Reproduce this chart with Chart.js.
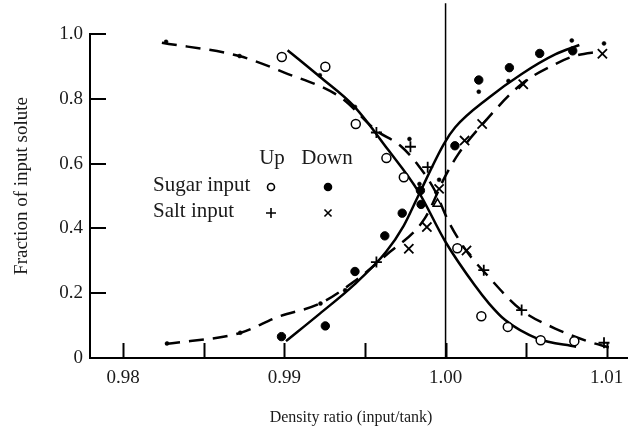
<!DOCTYPE html>
<html><head><meta charset="utf-8">
<script src="https://cdn.jsdelivr.net/npm/chart.js@4.4.0/dist/chart.umd.min.js"></script>
<style>html,body{margin:0;padding:0;background:#fff;}#wrap{width:636px;height:432px;}</style>
</head><body><div id="wrap"><canvas id="c" width="636" height="432"></canvas></div>
<script>
// ---- tick values & labels ----
const xTickValues = [0.98, 0.985, 0.99, 0.995, 1.00, 1.005, 1.01];
const xTickLabels = ['0.98', '', '0.99', '', '1.00', '', '1.01'];
const yTickValues = [0, 0.2, 0.4, 0.6, 0.8, 1.0];
const yTickLabels = ['0', '0.2', '0.4', '0.6', '0.8', '1.0'];
const xTitle = 'Density ratio (input/tank)';
const yTitle = 'Fraction of input solute';
const legendCols = ['Up', 'Down'];
const legendRows = ['Sugar input', 'Salt input'];

// ---- fitted curves ----
const sugarUpCurveX = [0.9902, 0.9922, 0.9943, 0.9964, 0.9983, 1.0000, 1.0018, 1.0027, 1.0037, 1.0057, 1.0081];
const sugarUpCurveY = [0.950, 0.868, 0.778, 0.645, 0.515, 0.358, 0.225, 0.168, 0.117, 0.060, 0.035];
const sugarDownCurveX = [0.9901, 0.9922, 0.9943, 0.9963, 0.9974, 0.9983, 0.9999, 1.0006, 1.0027, 1.0047, 1.0068, 1.0083];
const sugarDownCurveY = [0.052, 0.137, 0.225, 0.327, 0.408, 0.500, 0.661, 0.712, 0.804, 0.876, 0.937, 0.966];
const saltUpCurveX = [0.9824, 0.9872, 0.9900, 0.9935, 0.9957, 0.9972, 0.9983, 0.9993, 1.0002, 1.0013, 1.0025, 1.0047, 1.0068, 1.0088, 1.0103];
const saltUpCurveY = [0.973, 0.932, 0.881, 0.804, 0.702, 0.655, 0.595, 0.520, 0.420, 0.330, 0.260, 0.148, 0.091, 0.052, 0.030];
const saltDownCurveX = [0.9826, 0.9873, 0.9896, 0.9922, 0.9943, 0.9963, 0.9987, 1.0000, 1.0008, 1.0023, 1.0047, 1.0068, 1.0080, 1.0096];
const saltDownCurveY = [0.043, 0.078, 0.127, 0.168, 0.235, 0.317, 0.430, 0.563, 0.630, 0.722, 0.845, 0.907, 0.932, 0.946];

// ---- measured points ----
const sugarUpX = [0.98984, 0.99254, 0.99443, 0.99633, 0.99741, 1.00073, 1.00222, 1.00386, 1.00590, 1.00799];
const sugarUpY = [0.929, 0.899, 0.722, 0.617, 0.558, 0.339, 0.129, 0.096, 0.055, 0.052];
const sugarDownX = [0.98982, 0.99254, 0.99438, 0.99623, 0.99731, 0.99848, 0.99844, 1.00058, 1.00206, 1.00396, 1.00584, 1.00789];
const sugarDownY = [0.066, 0.099, 0.267, 0.377, 0.447, 0.474, 0.517, 0.655, 0.858, 0.896, 0.940, 0.948];
const saltUpX = [0.99571, 0.99782, 0.99889, 0.99571, 1.00237, 1.00472, 1.00983];
const saltUpY = [0.696, 0.652, 0.589, 0.296, 0.271, 0.148, 0.047];
const saltDownX = [0.99772, 0.99884, 0.99960, 1.00130, 1.00118, 1.00227, 1.00482, 1.00973];
const saltDownY = [0.337, 0.404, 0.522, 0.332, 0.671, 0.722, 0.845, 0.939];
const smallDotX = [0.98266, 0.98722, 0.98272, 0.98726, 0.99220, 0.99438, 0.99776, 0.99960, 0.99838, 1.00206, 1.00390, 1.00783, 1.00983, 0.99377, 0.99224];
const smallDotY = [0.976, 0.932, 0.045, 0.078, 0.873, 0.775, 0.676, 0.550, 0.537, 0.822, 0.855, 0.980, 0.971, 0.209, 0.168];
const triangleX = [0.99950];
const triangleY = [0.476];
const divideX = [1.0, 1.0];
const divideY = [0, 1.095];

const zip = (xs, ys) => xs.map((x, i) => ({x, y: ys[i]}));
const FONT = "'Liberation Serif', 'Times New Roman', serif";
const TXT = '#1a1a1a';

const curve = (xs, ys, dashed) => ({
  data: zip(xs, ys), showLine: true, borderColor: '#000', borderWidth: 2.5,
  borderDash: dashed ? [15, 9] : [], pointRadius: 0, cubicInterpolationMode: 'monotone', fill: false
});
const marks = (xs, ys, style, r, bg, bw) => ({
  data: zip(xs, ys), showLine: false, pointStyle: style, pointRadius: r,
  pointBackgroundColor: bg, pointBorderColor: '#000', pointBorderWidth: bw
});

const tickPlugin = {
  id: 'innerTicks',
  afterDraw(chart) {
    const ctx = chart.ctx, xs = chart.scales.x, ys = chart.scales.y;
    const a = chart.chartArea;
    ctx.save();
    ctx.strokeStyle = '#000'; ctx.lineWidth = 2;
    xTickValues.forEach(v => {
      const px = Math.round(xs.getPixelForValue(v)) + 0.5;
      ctx.beginPath(); ctx.moveTo(px, a.bottom); ctx.lineTo(px, a.bottom - 15); ctx.stroke();
    });
    yTickValues.forEach(v => {
      const py = Math.round(ys.getPixelForValue(v));
      ctx.beginPath(); ctx.moveTo(a.left, py); ctx.lineTo(a.left + 16, py); ctx.stroke();
    });
    ctx.restore();
  }
};

const textPlugin = {
  id: 'texts',
  afterDraw(chart) {
    const ctx = chart.ctx;
    ctx.save();
    ctx.fillStyle = TXT;
    ctx.textBaseline = 'middle';
    // axis titles
    ctx.font = '16px ' + FONT;
    ctx.textAlign = 'center';
    ctx.fillText(xTitle, 351, 418);
    ctx.save();
    ctx.translate(22, 186);
    ctx.rotate(-Math.PI / 2);
    ctx.font = '19px ' + FONT;
    ctx.fillText(yTitle, 0, 0);
    ctx.restore();
    // legend table
    ctx.font = '21px ' + FONT;
    ctx.textAlign = 'center';
    ctx.fillText(legendCols[0], 272, 158);
    ctx.fillText(legendCols[1], 327, 158);
    ctx.textAlign = 'left';
    ctx.fillText(legendRows[0], 153, 185);
    ctx.fillText(legendRows[1], 153, 211);
    const dp = Chart.helpers.drawPoint;
    ctx.strokeStyle = '#000'; ctx.fillStyle = '#fff'; ctx.lineWidth = 1.6;
    dp(ctx, {pointStyle: 'circle', radius: 3.5, borderWidth: 1.6, rotation: 0}, 271, 187);
    ctx.fillStyle = '#000';
    dp(ctx, {pointStyle: 'circle', radius: 3.5, borderWidth: 1, rotation: 0}, 328, 187);
    dp(ctx, {pointStyle: 'cross', radius: 5, borderWidth: 1.6, rotation: 0}, 271, 213);
    dp(ctx, {pointStyle: 'crossRot', radius: 5, borderWidth: 1.6, rotation: 0}, 328, 213);
    ctx.restore();
  }
};

new Chart(document.getElementById('c'), {
  type: 'scatter',
  data: {
    datasets: [
      marks(sugarUpX, sugarUpY, 'circle', 4.5, '#fff', 1.5),
      marks(sugarDownX, sugarDownY, 'circle', 4.2, '#000', 1),
      marks(saltUpX, saltUpY, 'cross', 5.5, '#000', 1.8),
      marks(saltDownX, saltDownY, 'crossRot', 6.5, '#000', 1.8),
      marks(smallDotX, smallDotY, 'circle', 2, '#000', 0.5),
      marks(triangleX, triangleY, 'triangle', 5, '#fff', 1.5),
      curve(sugarUpCurveX, sugarUpCurveY, false),
      curve(sugarDownCurveX, sugarDownCurveY, false),
      curve(saltUpCurveX, saltUpCurveY, true),
      curve(saltDownCurveX, saltDownCurveY, true),
      Object.assign(curve(divideX, divideY, false), {borderWidth: 1.5, cubicInterpolationMode: 'default', tension: 0, clip: false})
    ]
  },
  options: {
    responsive: false, animation: false, devicePixelRatio: 1,
    layout: {padding: {top: 34, right: 2, left: 0, bottom: 0}},
    plugins: {legend: {display: false}, tooltip: {enabled: false}},
    scales: {
      x: {
        type: 'linear', min: 0.97794, max: 1.0113,
        afterBuildTicks(s) { s.ticks = xTickValues.map(v => ({value: v})); },
        afterFit(s) { s.height = 74; },
        grid: {display: false, drawTicks: false, tickLength: 0},
        border: {display: true, color: '#000', width: 2},
        ticks: {
          padding: 9, color: TXT, font: {family: FONT, size: 19}, maxRotation: 0, autoSkip: false,
          callback: (v) => { const i = xTickValues.findIndex(t => Math.abs(t - v) < 1e-9); return i >= 0 ? xTickLabels[i] : ''; }
        }
      },
      y: {
        type: 'linear', min: 0, max: 1.0,
        afterBuildTicks(s) { s.ticks = yTickValues.map(v => ({value: v})); },
        afterFit(s) { s.width = 90; },
        grid: {display: false, drawTicks: false, tickLength: 0},
        border: {display: true, color: '#000', width: 2},
        ticks: {
          padding: 7, color: TXT, font: {family: FONT, size: 19}, autoSkip: false,
          callback: (v) => { const i = yTickValues.findIndex(t => Math.abs(t - v) < 1e-9); return i >= 0 ? yTickLabels[i] : ''; }
        }
      }
    }
  },
  plugins: [tickPlugin, textPlugin]
});
</script>
</body></html>
